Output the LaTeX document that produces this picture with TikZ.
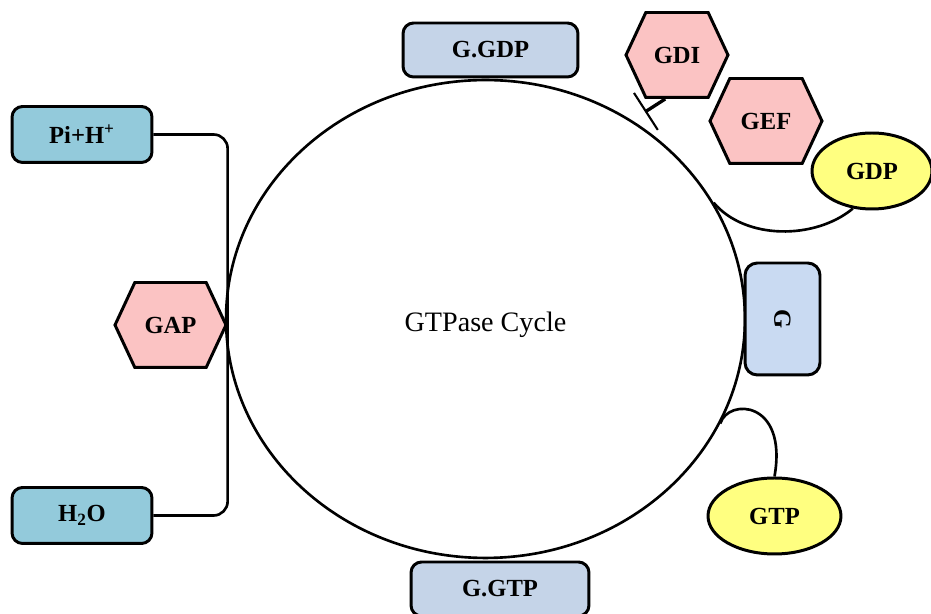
\documentclass[tikz,border=0pt]{standalone}
\usepackage{fontspec}
\setmainfont{Liberation Serif}
\usetikzlibrary{shapes.geometric,shapes.symbols,arrows.meta}

\definecolor{boundblue}{HTML}{C5D4E8}
\definecolor{freeblue}{HTML}{C9DAF2}
\definecolor{pinkhex}{HTML}{FBC3C3}
\definecolor{cyanbox}{HTML}{93CADB}
\definecolor{nucyellow}{HTML}{FFFF80}

\begin{document}
\begin{tikzpicture}[x=0.02cm, y=-0.02cm,
    lbl/.style={font=\fontsize{14}{16}\selectfont\bfseries},
    box/.style={lbl, draw, line width=1.7pt, rounded corners=6pt, inner sep=0pt},
    hexa/.style={lbl, signal, signal to=east and west, signal pointer angle=130,
      draw, fill=pinkhex, line width=1.7pt, minimum height=1.7cm, inner sep=0pt},
    blob/.style={lbl, ellipse, draw, fill=nucyellow, line width=1.7pt,
      minimum height=1.52cm, inner sep=0pt},
    link/.style={line width=1.5pt}]

    \useasboundingbox (0,0) rectangle (931,614);
    \clip (0,0) rectangle (931,614);

    \node[ellipse, draw, line width=1.5pt, minimum width=10.38cm, minimum height=9.56cm,
      font=\fontsize{16}{18}\selectfont, text height=18pt, text depth=3.5pt] (cycle) at (485.5,319) {GTPase Cycle};

    \node[box, fill=boundblue, minimum width=3.5cm, minimum height=1.08cm] (ggdp) at (490.5,50) {G.GDP};
    \node[box, fill=boundblue, minimum width=3.56cm, minimum height=1.08cm] (ggtp) at (500,589) {G.GTP};
    \node[box, fill=freeblue, rotate=-90, minimum width=2.24cm, minimum height=1.5cm,
      rounded corners=7pt] (free) at (782.5,319) {G};

    \node[box, fill=cyanbox, minimum width=2.8cm, minimum height=1.12cm] (pi) at (82,134.5) {Pi+H\textsuperscript{+}};
    \node[box, fill=cyanbox, minimum width=2.8cm, minimum height=1.12cm] (water) at (82,515.5) {H\textsubscript{2}O};

    \node[hexa, minimum width=2.04cm] (gdi) at (677,55) {GDI};
    \node[hexa, minimum width=2.24cm] (gef) at (766,121) {GEF};
    \node[hexa, minimum width=2.22cm] (gap) at (170.5,325) {GAP};

    \node[blob, minimum width=2.4cm] (gdp) at (872,171) {GDP};
    \node[blob, minimum width=2.66cm] (gtp) at (774.5,516) {GTP};

    \draw[link, rounded corners=8pt] (pi.east) -| (gap.east) |- (water.east);

    \coordinate (block) at (645,112);
    \draw[line width=1.9pt, -{Bar[width=0.88cm, line width=1.2pt]}] (gdi.255) -- (block);

    \draw[link] (cycle.27) .. controls (745,240) and (815,240) .. (gdp.243);
    \draw[link] (cycle.-24) .. controls (728,398) and (788,400) .. (gtp.north);
\end{tikzpicture}
\end{document}
